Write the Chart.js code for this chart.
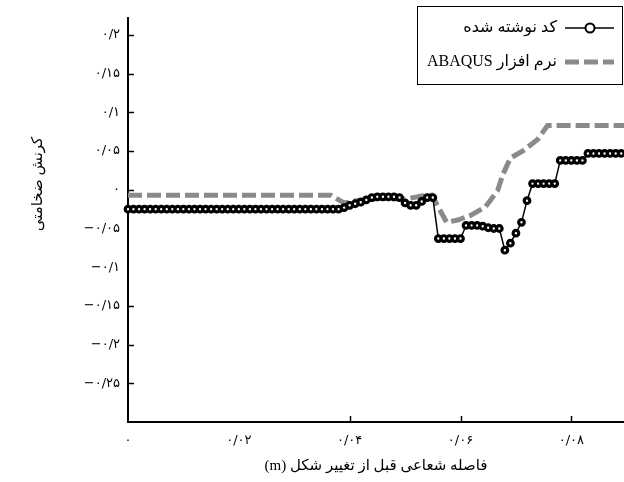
<!DOCTYPE html>
<html>
<head>
<meta charset="utf-8">
<script src="https://cdn.jsdelivr.net/npm/chart.js@4/dist/chart.umd.min.js"></script>
<style>
  body { margin: 0; background: #fff; }
</style>
</head>
<body>
<canvas id="chart" width="624" height="482"></canvas>
<script>
// radial distance (m) for the written-code series
const codeX = [
  0.000, 0.001, 0.002, 0.003, 0.004, 0.005, 0.006, 0.007, 0.008, 0.009,
  0.010, 0.011, 0.012, 0.013, 0.014, 0.015, 0.016, 0.017, 0.018, 0.019,
  0.020, 0.021, 0.022, 0.023, 0.024, 0.025, 0.026, 0.027, 0.028, 0.029,
  0.030, 0.031, 0.032, 0.033, 0.034, 0.035, 0.036, 0.037, 0.038, 0.039,
  0.040, 0.041, 0.042, 0.043, 0.044, 0.045, 0.046, 0.047, 0.048, 0.049,
  0.050, 0.051, 0.052, 0.053, 0.054, 0.055, 0.056, 0.057, 0.058, 0.059,
  0.060, 0.061, 0.062, 0.063, 0.064, 0.065, 0.066, 0.067, 0.068, 0.069,
  0.070, 0.071, 0.072, 0.073, 0.074, 0.075, 0.076, 0.077, 0.078, 0.079,
  0.080, 0.081, 0.082, 0.083, 0.084, 0.085, 0.086, 0.087, 0.088, 0.089
];
const codeStrain = [
  -0.025, -0.025, -0.025, -0.025, -0.025, -0.025, -0.025, -0.025, -0.025, -0.025,
  -0.025, -0.025, -0.025, -0.025, -0.025, -0.025, -0.025, -0.025, -0.025, -0.025,
  -0.025, -0.025, -0.025, -0.025, -0.025, -0.025, -0.025, -0.025, -0.025, -0.025,
  -0.025, -0.025, -0.025, -0.025, -0.025, -0.025, -0.025, -0.025, -0.025, -0.023,
  -0.020, -0.018, -0.016, -0.013, -0.010, -0.009, -0.009, -0.009, -0.009, -0.010,
  -0.017, -0.020, -0.020, -0.015, -0.010, -0.010, -0.063, -0.063, -0.063, -0.063,
  -0.063, -0.046, -0.046, -0.046, -0.047, -0.049, -0.050, -0.050, -0.078, -0.069,
  -0.056, -0.042, -0.014, 0.008, 0.008, 0.008, 0.008, 0.008, 0.038, 0.038,
  0.038, 0.038, 0.038, 0.047, 0.047, 0.047, 0.047, 0.047, 0.047, 0.047
];

// ABAQUS series
const abaqusX = [0, 0.0366, 0.039, 0.042, 0.046, 0.050, 0.053, 0.0548, 0.0562, 0.0575,
  0.0595, 0.0618, 0.0645, 0.0667, 0.0676, 0.069, 0.0714, 0.0739, 0.0757, 0.0895];
const abaqusStrain = [-0.007, -0.007, -0.017, -0.013, -0.011, -0.012, -0.008, -0.007, -0.025, -0.042,
  -0.039, -0.033, -0.022, -0.001, 0.019, 0.041, 0.051, 0.065, 0.083, 0.083];

const seriesNames = ['کد نوشته شده', 'نرم افزار ABAQUS'];

const xTicks = [0, 0.02, 0.04, 0.06, 0.08];
const xTickLabels = ['۰', '۰/۰۲', '۰/۰۴', '۰/۰۶', '۰/۰۸'];
const yTicks = [0.2, 0.15, 0.1, 0.05, 0, -0.05, -0.1, -0.15, -0.2, -0.25];
const yTickLabels = ['۰/۲', '۰/۱۵', '۰/۱', '۰/۰۵', '۰', '−۰/۰۵', '−۰/۱', '−۰/۱۵', '−۰/۲', '−۰/۲۵'];
// tick marks that are actually drawn on the axes
const xMarks = [0.04, 0.06, 0.08];
const yMarks = [0.2, 0.15, 0.1, 0.05, 0, -0.15, -0.2, -0.25];

const xTitle = 'فاصله شعاعی قبل از تغییر شکل (m)';
const yTitle = 'کرنش ضخامتی';

const FONT = "'Liberation Serif', 'DejaVu Sans', serif";

const extras = {
  id: 'extras',
  afterDraw(chart) {
    const ctx = chart.ctx;
    const xs = chart.scales.x, ys = chart.scales.y;
    const ds = chart.data.datasets;
    ctx.save();

    // inward tick marks
    ctx.strokeStyle = '#000';
    ctx.lineWidth = 1.5;
    ctx.beginPath();
    xMarks.forEach(v => {
      const p = Math.round(xs.getPixelForValue(v)) + 0.5;
      ctx.moveTo(p, ys.bottom);
      ctx.lineTo(p, ys.bottom - 6);
    });
    yMarks.forEach(v => {
      const p = Math.round(ys.getPixelForValue(v)) + 0.5;
      ctx.moveTo(xs.left, p);
      ctx.lineTo(xs.left + 6, p);
    });
    ctx.stroke();

    // axis titles
    ctx.fillStyle = '#000';
    ctx.direction = 'rtl';
    ctx.font = '15px ' + FONT;
    ctx.textAlign = 'center';
    ctx.textBaseline = 'middle';
    ctx.fillText(xTitle, (xs.left + xs.right) / 2, 466);
    ctx.save();
    ctx.translate(38, 184);
    ctx.rotate(-Math.PI / 2);
    ctx.fillText(yTitle, 0, 0);
    ctx.restore();

    // legend box
    const bx = 417.5, by = 6.5, bw = 205, bh = 78;
    ctx.fillStyle = '#fff';
    ctx.fillRect(bx, by, bw, bh);
    ctx.strokeStyle = '#000';
    ctx.lineWidth = 1;
    ctx.strokeRect(bx, by, bw, bh);

    const rows = [28, 62];
    ds.forEach((d, i) => {
      const y = rows[i];
      ctx.save();
      ctx.strokeStyle = d.borderColor;
      ctx.lineWidth = d.borderWidth;
      ctx.setLineDash(d.borderDash || []);
      ctx.beginPath();
      ctx.moveTo(565, y);
      ctx.lineTo(614, y);
      ctx.stroke();
      ctx.setLineDash([]);
      if (d.pointRadius) {
        ctx.beginPath();
        ctx.arc(590, y, 4.5, 0, Math.PI * 2);
        ctx.fillStyle = '#fff';
        ctx.fill();
        ctx.lineWidth = 2;
        ctx.stroke();
      }
      ctx.restore();
      ctx.fillStyle = '#000';
      ctx.font = '16px ' + FONT;
      ctx.direction = 'rtl';
      ctx.textAlign = 'right';
      ctx.textBaseline = 'middle';
      ctx.fillText(d.label, 557, y);
    });
    ctx.restore();
  }
};

const noPad = s => { s.paddingLeft = 0; s.paddingRight = 0; s.paddingTop = 0; s.paddingBottom = 0; };

new Chart(document.getElementById('chart'), {
  type: 'scatter',
  data: {
    datasets: [
      {
        label: seriesNames[0],
        data: codeX.map((x, i) => ({ x: x, y: codeStrain[i] })),
        showLine: true,
        borderColor: '#000',
        borderWidth: 1.5,
        pointStyle: 'circle',
        pointRadius: 2.8,
        pointBorderWidth: 3.2,
        pointBackgroundColor: '#fff',
        pointBorderColor: '#000',
        clip: 8
      },
      {
        label: seriesNames[1],
        data: abaqusX.map((x, i) => ({ x: x, y: abaqusStrain[i] })),
        showLine: true,
        borderColor: '#8a8a8a',
        borderWidth: 5,
        borderDash: [14, 5],
        pointRadius: 0,
        clip: 8
      }
    ]
  },
  options: {
    responsive: false,
    animation: false,
    devicePixelRatio: 1,
    layout: { autoPadding: false, padding: { top: 18, right: 0, left: 0, bottom: 0 } },
    plugins: {
      legend: { display: false },
      tooltip: { enabled: false }
    },
    scales: {
      x: {
        type: 'linear',
        min: 0,
        max: 0.0895,
        afterFit: s => { s.height = 60; noPad(s); },
        afterBuildTicks: s => { s.ticks = xTicks.map(v => ({ value: v })); },
        grid: { display: true, drawOnChartArea: false, drawTicks: false },
        border: { display: true, color: '#000', width: 2 },
        ticks: {
          autoSkip: false,
          maxRotation: 0,
          padding: 11,
          color: '#000',
          font: { family: "'DejaVu Sans'", size: 13 },
          callback: (v, i) => xTickLabels[i]
        }
      },
      y: {
        min: -0.3,
        max: 0.222,
        afterFit: s => { s.width = 128; noPad(s); },
        afterBuildTicks: s => { s.ticks = yTicks.map(v => ({ value: v })); },
        grid: { display: true, drawOnChartArea: false, drawTicks: false },
        border: { display: true, color: '#000', width: 2 },
        ticks: {
          autoSkip: false,
          padding: 8,
          color: '#000',
          font: { family: "'DejaVu Sans'", size: 13 },
          callback: (v, i) => yTickLabels[i]
        }
      }
    }
  },
  plugins: [extras]
});
</script>
</body>
</html>
